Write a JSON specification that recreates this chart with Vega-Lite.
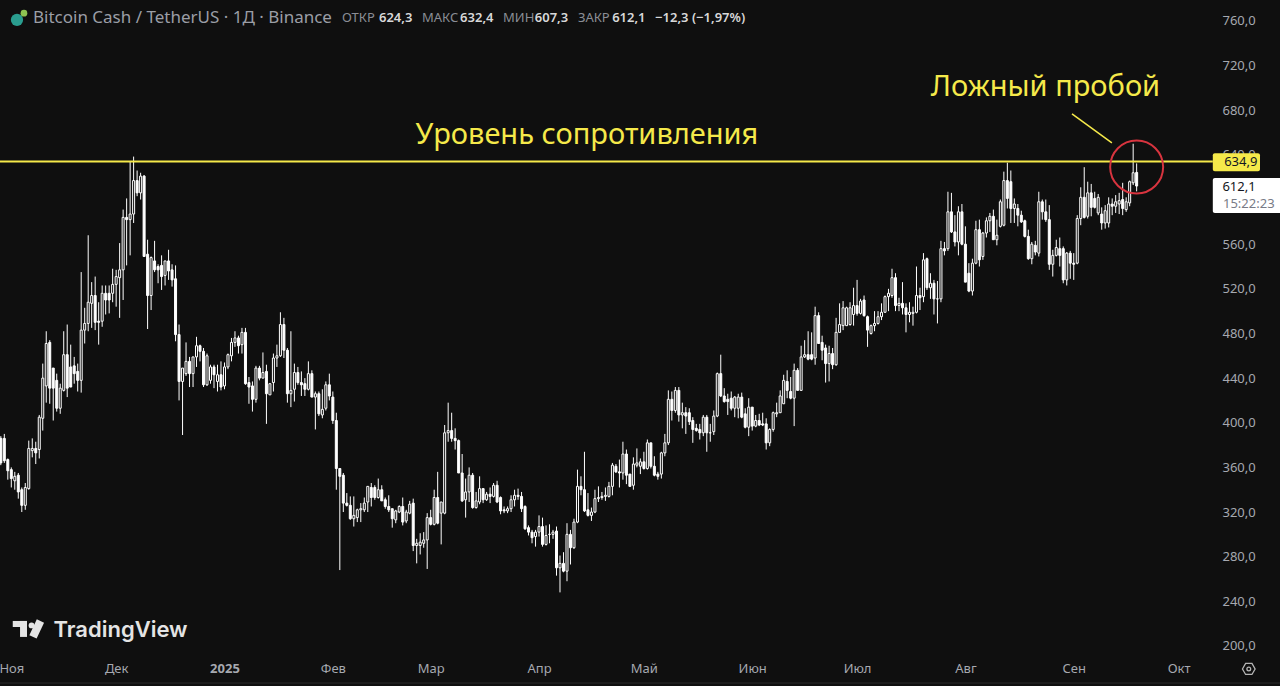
{"$schema":"https://vega.github.io/schema/vega-lite/v6.json","width":1209,"height":655,"padding":{"left":0,"top":0,"right":71,"bottom":31},"autosize":{"type":"none"},"background":"#0f0f0f","config":{"view":{"stroke":null},"font":"Noto Sans"},
"datasets":{"candles":[
{"t":"2024-10-29","o":386,"h":388,"l":362,"c":364},{"t":"2024-10-30","o":386,"h":390,"l":364,"c":366},{"t":"2024-10-31","o":367,"h":368,"l":349,"c":357},
{"t":"2024-11-01","o":358,"h":360,"l":342,"c":350},{"t":"2024-11-02","o":348,"h":356,"l":340,"c":352},{"t":"2024-11-03","o":353,"h":355,"l":332,"c":338},{"t":"2024-11-04","o":340,"h":342,"l":320,"c":326},{"t":"2024-11-05","o":326,"h":346,"l":322,"c":342},{"t":"2024-11-06","o":341,"h":384,"l":340,"c":377},{"t":"2024-11-07","o":375,"h":386,"l":369,"c":377},{"t":"2024-11-08","o":377,"h":383,"l":363,"c":373},{"t":"2024-11-09","o":376,"h":407,"l":368,"c":405},{"t":"2024-11-10","o":404,"h":453,"l":393,"c":440},
{"t":"2024-11-11","o":433,"h":482,"l":418,"c":471},{"t":"2024-11-12","o":472,"h":474,"l":417,"c":431},{"t":"2024-11-13","o":449,"h":449,"l":402,"c":431},{"t":"2024-11-14","o":438,"h":444,"l":410,"c":413},{"t":"2024-11-15","o":413,"h":435,"l":408,"c":431},{"t":"2024-11-16","o":429,"h":482,"l":428,"c":461},{"t":"2024-11-17","o":461,"h":488,"l":423,"c":431},{"t":"2024-11-18","o":450,"h":470,"l":432,"c":432},{"t":"2024-11-19","o":451,"h":459,"l":435,"c":444},{"t":"2024-11-20","o":446,"h":453,"l":428,"c":438},
{"t":"2024-11-21","o":438,"h":535,"l":427,"c":483},{"t":"2024-11-22","o":483,"h":503,"l":471,"c":489},{"t":"2024-11-23","o":489,"h":568,"l":482,"c":508},{"t":"2024-11-24","o":507,"h":526,"l":485,"c":514},{"t":"2024-11-25","o":514,"h":531,"l":483,"c":490},{"t":"2024-11-26","o":491,"h":508,"l":470,"c":490},{"t":"2024-11-27","o":491,"h":523,"l":486,"c":516},{"t":"2024-11-28","o":516,"h":523,"l":497,"c":510},{"t":"2024-11-29","o":516,"h":523,"l":498,"c":510},{"t":"2024-11-30","o":516,"h":538,"l":508,"c":524},
{"t":"2024-12-01","o":524,"h":537,"l":504,"c":531},{"t":"2024-12-02","o":530,"h":561,"l":494,"c":537},{"t":"2024-12-03","o":537,"h":591,"l":510,"c":584},{"t":"2024-12-04","o":584,"h":601,"l":541,"c":582},{"t":"2024-12-05","o":582,"h":634,"l":550,"c":587},{"t":"2024-12-06","o":587,"h":638.5,"l":579,"c":617},{"t":"2024-12-07","o":617,"h":626,"l":603,"c":606},{"t":"2024-12-08","o":606,"h":624,"l":600,"c":621},{"t":"2024-12-09","o":621,"h":622,"l":549,"c":549},{"t":"2024-12-10","o":551,"h":564,"l":484,"c":514},
{"t":"2024-12-11","o":514,"h":549,"l":501,"c":548},{"t":"2024-12-12","o":545,"h":563,"l":535,"c":537},{"t":"2024-12-13","o":540,"h":542,"l":525,"c":537},{"t":"2024-12-14","o":541,"h":550,"l":519,"c":531},{"t":"2024-12-15","o":532,"h":545,"l":523,"c":545},{"t":"2024-12-16","o":545,"h":555,"l":528,"c":536},{"t":"2024-12-17","o":537,"h":542,"l":522,"c":528},{"t":"2024-12-18","o":529,"h":541,"l":473,"c":479},{"t":"2024-12-19","o":479,"h":488,"l":420,"c":437},{"t":"2024-12-20","o":437,"h":449,"l":389,"c":449},
{"t":"2024-12-21","o":444,"h":472,"l":442,"c":455},{"t":"2024-12-22","o":455,"h":459,"l":432,"c":444},{"t":"2024-12-23","o":444,"h":459,"l":432,"c":459},{"t":"2024-12-24","o":459,"h":477,"l":450,"c":469},{"t":"2024-12-25","o":469,"h":470,"l":455,"c":464},{"t":"2024-12-26","o":464,"h":467,"l":432,"c":434},{"t":"2024-12-27","o":434,"h":462,"l":433,"c":460},{"t":"2024-12-28","o":438,"h":452,"l":435,"c":450},{"t":"2024-12-29","o":450,"h":452,"l":431,"c":443},{"t":"2024-12-30","o":437,"h":452,"l":428,"c":443},{"t":"2024-12-31","o":443,"h":455,"l":429,"c":432},
{"t":"2025-01-01","o":433,"h":454,"l":430,"c":450},{"t":"2025-01-02","o":450,"h":462,"l":448,"c":461},{"t":"2025-01-03","o":460,"h":476,"l":455,"c":472},{"t":"2025-01-04","o":472,"h":482,"l":468,"c":476},{"t":"2025-01-05","o":476,"h":478,"l":462,"c":469},{"t":"2025-01-06","o":470,"h":485,"l":462,"c":481},{"t":"2025-01-07","o":481,"h":485,"l":434,"c":435},{"t":"2025-01-08","o":436,"h":441,"l":417,"c":432},{"t":"2025-01-09","o":433,"h":437,"l":410,"c":421},{"t":"2025-01-10","o":421,"h":451,"l":418,"c":449},
{"t":"2025-01-11","o":449,"h":451,"l":438,"c":440},{"t":"2025-01-12","o":440,"h":463,"l":440,"c":445},{"t":"2025-01-13","o":446,"h":452,"l":399,"c":426},{"t":"2025-01-14","o":425,"h":435,"l":425,"c":435},{"t":"2025-01-15","o":436,"h":462,"l":428,"c":458},{"t":"2025-01-16","o":458,"h":470,"l":450,"c":460},{"t":"2025-01-17","o":460,"h":499,"l":459,"c":488},{"t":"2025-01-18","o":488,"h":494,"l":458,"c":465},{"t":"2025-01-19","o":465,"h":467,"l":418,"c":426},{"t":"2025-01-20","o":426,"h":482,"l":414,"c":429},
{"t":"2025-01-21","o":430,"h":453,"l":419,"c":445},{"t":"2025-01-22","o":445,"h":450,"l":434,"c":436},{"t":"2025-01-23","o":436,"h":446,"l":424,"c":434},{"t":"2025-01-24","o":435,"h":440,"l":424,"c":430},{"t":"2025-01-25","o":430,"h":455,"l":429,"c":444},{"t":"2025-01-26","o":444,"h":447,"l":423,"c":423},{"t":"2025-01-27","o":423,"h":428,"l":394,"c":426},{"t":"2025-01-28","o":426,"h":428,"l":406,"c":408},{"t":"2025-01-29","o":407,"h":430,"l":404,"c":412},{"t":"2025-01-30","o":413,"h":437,"l":411,"c":434},{"t":"2025-01-31","o":434,"h":444,"l":420,"c":424},
{"t":"2025-02-01","o":423,"h":428,"l":399,"c":402},{"t":"2025-02-02","o":402,"h":409,"l":340,"c":359},{"t":"2025-02-03","o":359,"h":359,"l":268,"c":352},{"t":"2025-02-04","o":353,"h":355,"l":320,"c":328},{"t":"2025-02-05","o":328,"h":337,"l":325,"c":326},{"t":"2025-02-06","o":326,"h":334,"l":313,"c":314},{"t":"2025-02-07","o":314,"h":334,"l":307,"c":317},{"t":"2025-02-08","o":315,"h":323,"l":311,"c":322},{"t":"2025-02-09","o":322,"h":328,"l":311,"c":323},{"t":"2025-02-10","o":322,"h":333,"l":320,"c":328},
{"t":"2025-02-11","o":329,"h":343,"l":320,"c":343},{"t":"2025-02-12","o":342,"h":346,"l":325,"c":333},{"t":"2025-02-13","o":342,"h":344,"l":331,"c":333},{"t":"2025-02-14","o":333,"h":350,"l":332,"c":340},{"t":"2025-02-15","o":340,"h":344,"l":330,"c":330},{"t":"2025-02-16","o":331,"h":333,"l":323,"c":325},{"t":"2025-02-17","o":325,"h":335,"l":320,"c":322},{"t":"2025-02-18","o":323,"h":323,"l":306,"c":314},{"t":"2025-02-19","o":313,"h":322,"l":310,"c":321},{"t":"2025-02-20","o":320,"h":326,"l":319,"c":325},
{"t":"2025-02-21","o":325,"h":333,"l":308,"c":311},{"t":"2025-02-22","o":312,"h":322,"l":310,"c":320},{"t":"2025-02-23","o":319,"h":330,"l":318,"c":327},{"t":"2025-02-24","o":328,"h":332,"l":285,"c":290},{"t":"2025-02-25","o":290,"h":296,"l":274,"c":292},{"t":"2025-02-26","o":290,"h":301,"l":282,"c":293},{"t":"2025-02-27","o":292,"h":302,"l":288,"c":295},{"t":"2025-02-28","o":295,"h":319,"l":269,"c":315},
{"t":"2025-03-01","o":315,"h":322,"l":308,"c":309},{"t":"2025-03-02","o":309,"h":340,"l":308,"c":333},{"t":"2025-03-03","o":333,"h":356,"l":309,"c":310},{"t":"2025-03-04","o":319,"h":329,"l":291,"c":329},{"t":"2025-03-05","o":319,"h":398,"l":318,"c":391},{"t":"2025-03-06","o":391,"h":418,"l":383,"c":393},{"t":"2025-03-07","o":393,"h":409,"l":383,"c":386},{"t":"2025-03-08","o":386,"h":395,"l":376,"c":384},{"t":"2025-03-09","o":384,"h":385,"l":355,"c":355},{"t":"2025-03-10","o":355,"h":372,"l":329,"c":330},
{"t":"2025-03-11","o":331,"h":350,"l":315,"c":338},{"t":"2025-03-12","o":338,"h":360,"l":329,"c":353},{"t":"2025-03-13","o":353,"h":355,"l":323,"c":324},{"t":"2025-03-14","o":324,"h":338,"l":323,"c":330},{"t":"2025-03-15","o":329,"h":352,"l":327,"c":341},{"t":"2025-03-16","o":341,"h":341,"l":328,"c":331},{"t":"2025-03-17","o":331,"h":338,"l":330,"c":336},{"t":"2025-03-18","o":336,"h":342,"l":328,"c":334},{"t":"2025-03-19","o":334,"h":346,"l":333,"c":344},{"t":"2025-03-20","o":344,"h":348,"l":328,"c":329},
{"t":"2025-03-21","o":333,"h":334,"l":318,"c":321},{"t":"2025-03-22","o":322,"h":325,"l":319,"c":321},{"t":"2025-03-23","o":321,"h":325,"l":319,"c":323},{"t":"2025-03-24","o":323,"h":335,"l":320,"c":331},{"t":"2025-03-25","o":331,"h":340,"l":325,"c":335},{"t":"2025-03-26","o":335,"h":341,"l":331,"c":334},{"t":"2025-03-27","o":334,"h":338,"l":320,"c":323},{"t":"2025-03-28","o":325,"h":326,"l":304,"c":305},{"t":"2025-03-29","o":306,"h":308,"l":299,"c":302},{"t":"2025-03-30","o":302,"h":304,"l":292,"c":297},{"t":"2025-03-31","o":298,"h":304,"l":289,"c":302},
{"t":"2025-04-01","o":302,"h":317,"l":298,"c":307},{"t":"2025-04-02","o":307,"h":315,"l":289,"c":291},{"t":"2025-04-03","o":291,"h":308,"l":290,"c":299},{"t":"2025-04-04","o":300,"h":309,"l":292,"c":300},{"t":"2025-04-05","o":300,"h":304,"l":296,"c":302},{"t":"2025-04-06","o":303,"h":307,"l":263,"c":270},{"t":"2025-04-07","o":270,"h":281,"l":248,"c":274},{"t":"2025-04-08","o":274,"h":284,"l":266,"c":267},{"t":"2025-04-09","o":267,"h":310,"l":258,"c":300},{"t":"2025-04-10","o":300,"h":304,"l":273,"c":288},
{"t":"2025-04-11","o":288,"h":314,"l":287,"c":311},{"t":"2025-04-12","o":311,"h":358,"l":310,"c":343},{"t":"2025-04-13","o":343,"h":352,"l":335,"c":340},{"t":"2025-04-14","o":340,"h":374,"l":320,"c":321},{"t":"2025-04-15","o":322,"h":337,"l":316,"c":317},{"t":"2025-04-16","o":317,"h":324,"l":312,"c":320},{"t":"2025-04-17","o":320,"h":340,"l":319,"c":332},{"t":"2025-04-18","o":332,"h":343,"l":329,"c":333},{"t":"2025-04-19","o":333,"h":338,"l":331,"c":334},{"t":"2025-04-20","o":334,"h":342,"l":330,"c":335},
{"t":"2025-04-21","o":334,"h":347,"l":333,"c":343},{"t":"2025-04-22","o":343,"h":364,"l":335,"c":362},{"t":"2025-04-23","o":361,"h":363,"l":355,"c":356},{"t":"2025-04-24","o":356,"h":367,"l":342,"c":355},{"t":"2025-04-25","o":355,"h":383,"l":349,"c":372},{"t":"2025-04-26","o":372,"h":376,"l":345,"c":353},{"t":"2025-04-27","o":354,"h":354,"l":343,"c":343},{"t":"2025-04-28","o":344,"h":369,"l":340,"c":363},{"t":"2025-04-29","o":362,"h":377,"l":360,"c":364},{"t":"2025-04-30","o":361,"h":368,"l":354,"c":365},
{"t":"2025-05-01","o":365,"h":374,"l":358,"c":359},{"t":"2025-05-02","o":359,"h":385,"l":358,"c":382},{"t":"2025-05-03","o":382,"h":382,"l":359,"c":361},{"t":"2025-05-04","o":361,"h":370,"l":352,"c":353},{"t":"2025-05-05","o":354,"h":356,"l":349,"c":352},{"t":"2025-05-06","o":354,"h":374,"l":350,"c":373},{"t":"2025-05-07","o":373,"h":390,"l":370,"c":382},{"t":"2025-05-08","o":382,"h":429,"l":380,"c":421},{"t":"2025-05-09","o":421,"h":428,"l":402,"c":411},{"t":"2025-05-10","o":411,"h":432,"l":409,"c":429},
{"t":"2025-05-11","o":429,"h":432,"l":401,"c":407},{"t":"2025-05-12","o":407,"h":418,"l":395,"c":409},{"t":"2025-05-13","o":409,"h":414,"l":390,"c":406},{"t":"2025-05-14","o":409,"h":413,"l":398,"c":401},{"t":"2025-05-15","o":402,"h":405,"l":382,"c":394},{"t":"2025-05-16","o":395,"h":399,"l":392,"c":393},{"t":"2025-05-17","o":394,"h":399,"l":385,"c":391},{"t":"2025-05-18","o":391,"h":407,"l":388,"c":405},{"t":"2025-05-19","o":405,"h":407,"l":374,"c":391},{"t":"2025-05-20","o":391,"h":399,"l":383,"c":391},
{"t":"2025-05-21","o":392,"h":411,"l":389,"c":406},{"t":"2025-05-22","o":406,"h":445,"l":405,"c":444},{"t":"2025-05-23","o":444,"h":461,"l":423,"c":424},{"t":"2025-05-24","o":424,"h":431,"l":418,"c":419},{"t":"2025-05-25","o":421,"h":426,"l":407,"c":419},{"t":"2025-05-26","o":422,"h":428,"l":411,"c":413},{"t":"2025-05-27","o":413,"h":424,"l":405,"c":423},{"t":"2025-05-28","o":413,"h":426,"l":404,"c":423},{"t":"2025-05-29","o":423,"h":427,"l":404,"c":405},{"t":"2025-05-30","o":408,"h":413,"l":395,"c":396},{"t":"2025-05-31","o":396,"h":422,"l":388,"c":414},
{"t":"2025-06-01","o":414,"h":414,"l":393,"c":397},{"t":"2025-06-02","o":397,"h":407,"l":396,"c":402},{"t":"2025-06-03","o":402,"h":408,"l":397,"c":398},{"t":"2025-06-04","o":399,"h":409,"l":397,"c":398},{"t":"2025-06-05","o":399,"h":404,"l":376,"c":382},{"t":"2025-06-06","o":382,"h":395,"l":379,"c":394},{"t":"2025-06-07","o":394,"h":410,"l":392,"c":409},{"t":"2025-06-08","o":408,"h":418,"l":405,"c":409},{"t":"2025-06-09","o":409,"h":429,"l":409,"c":424},{"t":"2025-06-10","o":417,"h":443,"l":417,"c":438},
{"t":"2025-06-11","o":437,"h":447,"l":422,"c":429},{"t":"2025-06-12","o":428,"h":441,"l":421,"c":422},{"t":"2025-06-13","o":422,"h":453,"l":397,"c":447},{"t":"2025-06-14","o":447,"h":449,"l":429,"c":429},{"t":"2025-06-15","o":429,"h":469,"l":429,"c":459},{"t":"2025-06-16","o":459,"h":474,"l":458,"c":461},{"t":"2025-06-17","o":461,"h":482,"l":456,"c":457},{"t":"2025-06-18","o":461,"h":481,"l":456,"c":457},{"t":"2025-06-19","o":458,"h":504,"l":452,"c":496},{"t":"2025-06-20","o":496,"h":499,"l":471,"c":471},
{"t":"2025-06-21","o":472,"h":478,"l":456,"c":465},{"t":"2025-06-22","o":467,"h":470,"l":436,"c":453},{"t":"2025-06-23","o":453,"h":469,"l":437,"c":462},{"t":"2025-06-24","o":462,"h":467,"l":448,"c":452},{"t":"2025-06-25","o":452,"h":494,"l":451,"c":481},{"t":"2025-06-26","o":481,"h":507,"l":481,"c":488},{"t":"2025-06-27","o":487,"h":509,"l":483,"c":503},{"t":"2025-06-28","o":487,"h":504,"l":487,"c":503},{"t":"2025-06-29","o":488,"h":508,"l":487,"c":503},{"t":"2025-06-30","o":497,"h":521,"l":487,"c":505},
{"t":"2025-07-01","o":505,"h":528,"l":496,"c":498},{"t":"2025-07-02","o":498,"h":511,"l":497,"c":509},{"t":"2025-07-03","o":510,"h":514,"l":495,"c":496},{"t":"2025-07-04","o":495,"h":496,"l":468,"c":483},{"t":"2025-07-05","o":480,"h":488,"l":479,"c":487},{"t":"2025-07-06","o":487,"h":500,"l":482,"c":489},{"t":"2025-07-07","o":489,"h":500,"l":488,"c":495},{"t":"2025-07-08","o":495,"h":507,"l":492,"c":499},{"t":"2025-07-09","o":499,"h":514,"l":499,"c":513},{"t":"2025-07-10","o":513,"h":520,"l":500,"c":516},
{"t":"2025-07-11","o":514,"h":538,"l":512,"c":530},{"t":"2025-07-12","o":530,"h":534,"l":500,"c":505},{"t":"2025-07-13","o":505,"h":512,"l":500,"c":507},{"t":"2025-07-14","o":507,"h":526,"l":497,"c":503},{"t":"2025-07-15","o":503,"h":507,"l":481,"c":497},{"t":"2025-07-16","o":497,"h":508,"l":490,"c":499},{"t":"2025-07-17","o":498,"h":504,"l":487,"c":499},{"t":"2025-07-18","o":499,"h":540,"l":498,"c":514},{"t":"2025-07-19","o":514,"h":521,"l":501,"c":512},{"t":"2025-07-20","o":513,"h":552,"l":508,"c":546},
{"t":"2025-07-21","o":547,"h":548,"l":519,"c":521},{"t":"2025-07-22","o":521,"h":534,"l":511,"c":525},{"t":"2025-07-23","o":525,"h":528,"l":497,"c":511},{"t":"2025-07-24","o":511,"h":527,"l":489,"c":511},{"t":"2025-07-25","o":511,"h":563,"l":508,"c":556},{"t":"2025-07-26","o":556,"h":562,"l":550,"c":554},{"t":"2025-07-27","o":556,"h":607,"l":554,"c":589},{"t":"2025-07-28","o":589,"h":606,"l":570,"c":571},{"t":"2025-07-29","o":571,"h":586,"l":558,"c":562},{"t":"2025-07-30","o":562,"h":594,"l":550,"c":589},{"t":"2025-07-31","o":589,"h":596,"l":559,"c":560},
{"t":"2025-08-01","o":560,"h":576,"l":526,"c":526},{"t":"2025-08-02","o":534,"h":543,"l":517,"c":518},{"t":"2025-08-03","o":518,"h":547,"l":514,"c":543},{"t":"2025-08-04","o":543,"h":581,"l":542,"c":573},{"t":"2025-08-05","o":573,"h":582,"l":540,"c":546},{"t":"2025-08-06","o":549,"h":571,"l":546,"c":570},{"t":"2025-08-07","o":570,"h":584,"l":566,"c":581},{"t":"2025-08-08","o":581,"h":588,"l":571,"c":585},{"t":"2025-08-09","o":585,"h":591,"l":564,"c":564},{"t":"2025-08-10","o":564,"h":582,"l":559,"c":568},
{"t":"2025-08-11","o":576,"h":600,"l":575,"c":598},{"t":"2025-08-12","o":577,"h":625,"l":576,"c":617},{"t":"2025-08-13","o":617,"h":633,"l":592,"c":601},{"t":"2025-08-14","o":616,"h":626,"l":579,"c":592},{"t":"2025-08-15","o":592,"h":601,"l":579,"c":596},{"t":"2025-08-16","o":592,"h":596,"l":576,"c":586},{"t":"2025-08-17","o":586,"h":590,"l":579,"c":580},{"t":"2025-08-18","o":581,"h":582,"l":566,"c":567},{"t":"2025-08-19","o":567,"h":573,"l":546,"c":547},{"t":"2025-08-20","o":547,"h":562,"l":542,"c":560},
{"t":"2025-08-21","o":559,"h":563,"l":550,"c":553},{"t":"2025-08-22","o":552,"h":607,"l":549,"c":598},{"t":"2025-08-23","o":598,"h":600,"l":582,"c":589},{"t":"2025-08-24","o":589,"h":600,"l":580,"c":582},{"t":"2025-08-25","o":582,"h":595,"l":537,"c":542},{"t":"2025-08-26","o":542,"h":555,"l":531,"c":550},{"t":"2025-08-27","o":550,"h":564,"l":549,"c":557},{"t":"2025-08-28","o":556,"h":566,"l":540,"c":550},{"t":"2025-08-29","o":556,"h":558,"l":525,"c":528},{"t":"2025-08-30","o":528,"h":553,"l":523,"c":552},{"t":"2025-08-31","o":552,"h":554,"l":529,"c":543},
{"t":"2025-09-01","o":543,"h":552,"l":528,"c":542},{"t":"2025-09-02","o":543,"h":586,"l":542,"c":583},{"t":"2025-09-03","o":583,"h":611,"l":577,"c":602},{"t":"2025-09-04","o":602,"h":629,"l":583,"c":584},{"t":"2025-09-05","o":585,"h":616,"l":583,"c":606},{"t":"2025-09-06","o":606,"h":614,"l":585,"c":593},{"t":"2025-09-07","o":601,"h":607,"l":592,"c":593},{"t":"2025-09-08","o":588,"h":605,"l":586,"c":602},{"t":"2025-09-09","o":587,"h":593,"l":573,"c":579},{"t":"2025-09-10","o":579,"h":595,"l":574,"c":590},
{"t":"2025-09-11","o":579,"h":602,"l":575,"c":596},{"t":"2025-09-12","o":596,"h":601,"l":586,"c":594},{"t":"2025-09-13","o":594,"h":604,"l":588,"c":598},{"t":"2025-09-14","o":596,"h":606,"l":587,"c":599},{"t":"2025-09-15","o":600,"h":615,"l":586,"c":592},{"t":"2025-09-16","o":591,"h":602,"l":589,"c":598},{"t":"2025-09-17","o":597,"h":617,"l":594,"c":616},{"t":"2025-09-18","o":615,"h":650,"l":613,"c":624},{"t":"2025-09-19","o":624.3,"h":632.4,"l":607.3,"c":612.1}
]},
"data":{"name":"candles"},
"layer":[
{"mark":{"type":"rule","strokeWidth":1,"color":"#ffffff"},"encoding":{"x":{"field":"t","type":"temporal","scale":{"type":"utc","padding":0,"domain":["2024-10-28T18:24:00Z","2025-10-09T16:48:00Z"]},"axis":{"values":["2024-11-01","2024-12-01","2025-01-01","2025-02-01","2025-03-01","2025-04-01","2025-05-01","2025-06-01","2025-07-01","2025-08-01","2025-09-01","2025-10-01"],"labelExpr":"utcmonth(datum.value)==10?'Ноя':['2025','Фев','Мар','Апр','Май','Июн','Июл','Авг','Сен','Окт','Ноя','Дек'][utcmonth(datum.value)]","title":null,"domain":false,"ticks":false,"grid":false,"labelColor":"#a6a9b0","labelFontSize":13,"labelPadding":7,"labelOverlap":false,"labelBound":false,"labelFlush":false,"labelFontWeight":{"condition":{"test":"utcmonth(datum.value)==0","value":"bold"},"value":"normal"}}},"y":{"field":"h","type":"quantitative","scale":{"domain":[191.9,778.8],"nice":false,"zero":false},"axis":{"orient":"right","values":[200,240,280,320,360,400,440,480,520,560,600,640,680,720,760],"labelExpr":"replace(format(datum.value,'.1f'),'.',',')","title":null,"domain":false,"ticks":false,"grid":false,"labelColor":"#a6a9b0","labelFontSize":13,"labelPadding":13}},"y2":{"field":"l"}}},
{"mark":{"type":"bar","size":2,"stroke":"#ffffff","strokeWidth":1},"encoding":{"x":{"field":"t","type":"temporal"},"y":{"field":"o","type":"quantitative"},"y2":{"field":"c"},"fill":{"condition":{"test":"datum.c>=datum.o","value":"#0f0f0f"},"value":"#ffffff"}}},
{"data":{"values":[{"t":"2024-10-28T18:24:00Z","t2":"2025-11-01T12:00:00Z","p":166.8}]},"mark":{"type":"rule","color":"#2a2a2a","strokeWidth":1},"encoding":{"x":{"field":"t","type":"temporal"},"x2":{"field":"t2"},"y":{"field":"p","type":"quantitative"}}},
{"data":{"values":[{"t":"2024-10-28T18:24:00Z","t2":"2025-10-10T19:00:00Z","p":634}]},"mark":{"type":"rule","color":"#f5e94a","strokeWidth":2},"encoding":{"x":{"field":"t","type":"temporal"},"x2":{"field":"t2"},"y":{"field":"p","type":"quantitative"}}},
{"data":{"values":[{"t":"2025-08-31T12:00:00Z","t2":"2025-09-11T22:00:00Z","p":676.7,"p2":650.7}]},"mark":{"type":"rule","color":"#f5e94a","strokeWidth":1.5},"encoding":{"x":{"field":"t","type":"temporal"},"x2":{"field":"t2"},"y":{"field":"p","type":"quantitative"},"y2":{"field":"p2"}}},
{"data":{"values":[{"t":"2025-09-19T00:00:00Z","p":629.2}]},"mark":{"type":"point","shape":"circle","size":2809,"filled":false,"stroke":"#d8343f","strokeWidth":2,"opacity":1},"encoding":{"x":{"field":"t","type":"temporal"},"y":{"field":"p","type":"quantitative"}}},
{"data":{"values":[{"t":"2025-10-10T19:00:00Z","t2":"2025-10-24T07:00:00Z","p":641.5,"p2":625.4,"col":"#f5e94a"},{"t":"2025-10-10T19:00:00Z","t2":"2025-11-01T12:00:00Z","p":619.4,"p2":588,"col":"#ffffff"}]},"mark":{"type":"rect","cornerRadius":2},"encoding":{"x":{"field":"t","type":"temporal"},"x2":{"field":"t2"},"y":{"field":"p","type":"quantitative"},"y2":{"field":"p2"},"color":{"field":"col","type":"nominal","scale":null}}},
{"data":{"values":[{"t":"2024-11-01T10:00:00Z","t2":"2024-11-05T12:00:00Z","p":222.4,"p2":217},{"t":"2024-11-03T12:00:00Z","t2":"2024-11-05T12:00:00Z","p":222.4,"p2":208.1}]},"mark":{"type":"rect","color":"#e4e4e4"},"encoding":{"x":{"field":"t","type":"temporal"},"x2":{"field":"t2"},"y":{"field":"p","type":"quantitative"},"y2":{"field":"p2"}}},
{"data":{"values":[{"t":"2024-11-09T08:00:00Z","t2":"2024-11-07T05:00:00Z","p":222.4,"p2":208.1}]},"mark":{"type":"rule","color":"#e4e4e4","strokeWidth":8},"encoding":{"x":{"field":"t","type":"temporal"},"x2":{"field":"t2"},"y":{"field":"p","type":"quantitative"},"y2":{"field":"p2"}}},
{"data":{"values":[{"t":"2024-11-06T19:00:00Z","p":218.4}]},"mark":{"type":"point","shape":"circle","filled":true,"size":34,"color":"#e4e4e4","opacity":1},"encoding":{"x":{"field":"t","type":"temporal"},"y":{"field":"p","type":"quantitative"}}},
{"data":{"values":[{"s":"TradingView","t":"2024-11-13T02:00:00Z","p":214.7}]},"mark":{"type":"text","align":"left","baseline":"middle","font":"Inter","fontSize":22,"fontWeight":600,"color":"#e4e4e4"},"encoding":{"x":{"field":"t","type":"temporal"},"y":{"field":"p","type":"quantitative"},"text":{"field":"s"}}},
{"data":{"values":[
{"s":"Bitcoin Cash / TetherUS · 1Д · Binance","t":"2024-11-07T05:00:00Z","p":762.7,"col":"#9b9ea6","sz":17},
{"s":"ОТКР","t":"2025-02-03T14:24:00Z","p":762.7,"col":"#8a8d95","sz":13},
{"s":"МАКС","t":"2025-02-26T12:00:00Z","p":762.7,"col":"#8a8d95","sz":13},
{"s":"МИН","t":"2025-03-21T17:00:00Z","p":762.7,"col":"#8a8d95","sz":13},
{"s":"ЗАКР","t":"2025-04-12T03:00:00Z","p":762.7,"col":"#8a8d95","sz":13}
]},"mark":{"type":"text","align":"left","baseline":"middle"},"encoding":{"x":{"field":"t","type":"temporal"},"y":{"field":"p","type":"quantitative"},"text":{"field":"s"},"color":{"field":"col","type":"nominal","scale":null},"size":{"field":"sz","type":"quantitative","scale":null}}},
{"data":{"values":[
{"s":"624,3","t":"2025-02-14T05:00:00Z","p":762.7},
{"s":"632,4","t":"2025-03-09T10:00:00Z","p":762.7},
{"s":"607,3","t":"2025-03-30T19:00:00Z","p":762.7},
{"s":"612,1","t":"2025-04-21T22:00:00Z","p":762.7},
{"s":"−12,3 (−1,97%)","t":"2025-05-04T05:00:00Z","p":762.7}
]},"mark":{"type":"text","align":"left","baseline":"middle","fontSize":13,"fontWeight":600,"color":"#d8d8d8"},"encoding":{"x":{"field":"t","type":"temporal"},"y":{"field":"p","type":"quantitative"},"text":{"field":"s"}}},
{"data":{"values":[
{"s":"Уровень сопротивления","t":"2025-04-14T17:00:00Z","p":657.9,"col":"#f5e94a","sz":29},
{"s":"Ложный пробой","t":"2025-08-23T22:00:00Z","p":700.9,"col":"#f5e94a","sz":29},
{"s":"634,9","t":"2025-10-18T19:00:00Z","p":633.5,"col":"#131722","sz":13},
{"s":"612,1","t":"2025-10-18T07:00:00Z","p":611.3,"col":"#131722","sz":13},
{"s":"15:22:23","t":"2025-10-21T02:00:00Z","p":596,"col":"#787b86","sz":13}
]},"mark":{"type":"text","align":"center","baseline":"middle"},"encoding":{"x":{"field":"t","type":"temporal"},"y":{"field":"p","type":"quantitative"},"text":{"field":"s"},"color":{"field":"col","type":"nominal","scale":null},"size":{"field":"sz","type":"quantitative","scale":null}}},
{"data":{"values":[{"t":"2024-11-02T15:00:00Z","p":761,"col":"#2a9d8f","sz":150},{"t":"2024-11-04T15:00:00Z","p":767,"col":"#8dc351","sz":45}]},"mark":{"type":"point","filled":true,"opacity":1},"encoding":{"x":{"field":"t","type":"temporal"},"y":{"field":"p","type":"quantitative"},"color":{"field":"col","type":"nominal","scale":null},"size":{"field":"sz","type":"quantitative","scale":null}}},
{"data":{"values":[{"t":"2025-10-21T02:00:00Z","p":179.4}]},"mark":{"type":"point","shape":"M-1,0L-0.5,-0.87L0.5,-0.87L1,0L0.5,0.87L-0.5,0.87Z","size":160,"filled":false,"stroke":"#b5b5b5","strokeWidth":1.3,"opacity":1},"encoding":{"x":{"field":"t","type":"temporal"},"y":{"field":"p","type":"quantitative"}}},
{"data":{"values":[{"t":"2025-10-21T02:00:00Z","p":179.4}]},"mark":{"type":"point","shape":"circle","size":14,"filled":false,"stroke":"#b5b5b5","strokeWidth":1.3,"opacity":1},"encoding":{"x":{"field":"t","type":"temporal"},"y":{"field":"p","type":"quantitative"}}}
]}
